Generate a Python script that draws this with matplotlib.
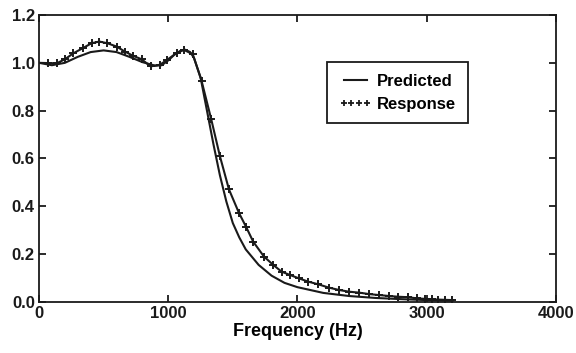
import matplotlib.pyplot as plt
from matplotlib.lines import Line2D

# predicted curve (Hz, magnitude)
pred_freq = [0, 100, 200, 300, 400, 500, 600, 700, 800, 900, 950, 1000, 1050, 1100,
             1130, 1170, 1200, 1250, 1300, 1350, 1400, 1450, 1500, 1550, 1600, 1700,
             1800, 1900, 2000, 2200, 2400, 2600, 2800, 3000, 3200]
pred_val = [1.0, 0.99, 1.0, 1.025, 1.045, 1.052, 1.045, 1.025, 1.003, 0.988, 0.99, 1.01,
            1.035, 1.052, 1.055, 1.045, 1.02, 0.94, 0.80, 0.66, 0.53, 0.42, 0.33, 0.27,
            0.22, 0.155, 0.11, 0.08, 0.062, 0.038, 0.025, 0.017, 0.012, 0.008, 0.005]

# measured response
resp_freq = [0, 70, 137, 201, 266, 338, 407, 467, 529, 601, 665, 730, 794, 864, 936, 993,
             1065, 1122, 1190, 1259, 1333, 1400, 1470, 1547, 1602, 1658, 1741, 1813, 1877,
             1942, 2011, 2084, 2161, 2244, 2324, 2401, 2479, 2556, 2631, 2710, 2780, 2857,
             2927, 2990, 3040, 3090, 3140, 3200]
resp_val = [1.0, 0.999, 0.998, 1.015, 1.04, 1.061, 1.082, 1.089, 1.082, 1.068, 1.047, 1.029,
            1.015, 0.985, 0.992, 1.013, 1.041, 1.054, 1.036, 0.923, 0.764, 0.61, 0.471, 0.373,
            0.315, 0.252, 0.19, 0.155, 0.127, 0.113, 0.099, 0.085, 0.074, 0.06, 0.05, 0.043,
            0.039, 0.033, 0.029, 0.025, 0.022, 0.02, 0.015, 0.013, 0.011, 0.01, 0.009, 0.008]

plt.rcParams['font.family'] = ['Liberation Sans Narrow', 'Liberation Sans', 'DejaVu Sans']
plt.rcParams['font.weight'] = 'bold'

fig = plt.figure(figsize=(5.76, 3.53), dpi=100)
ax = fig.add_axes([0.0677, 0.1445, 0.8973, 0.813])

ax.plot(pred_freq, pred_val, color='#1a1a1a', lw=1.5)
ax.plot(resp_freq[1:], resp_val[1:], color='#1a1a1a', lw=1.5, marker='+', ms=6, mew=1.4)
ax.plot(resp_freq[:2], resp_val[:2], color='#1a1a1a', lw=1.5)

ax.set_xlim(0, 4000)
ax.set_ylim(0, 1.2)
ax.set_xticks([0, 1000, 2000, 3000, 4000])
ax.set_yticks([0.0, 0.2, 0.4, 0.6, 0.8, 1.0, 1.2])
ax.set_yticklabels(['0.0', '0.2', '0.4', '0.6', '0.8', '1.0', '1.2'])
ax.tick_params(direction='in', length=5, width=1.3, top=True, right=True,
               labelsize=12, pad=3, colors='#1a1a1a')
for s in ax.spines.values():
    s.set_linewidth(1.3)
    s.set_color('#1a1a1a')
ax.set_xlabel('Frequency (Hz)', fontsize=13, fontweight='bold', labelpad=1)

handles = [Line2D([], [], color='#1a1a1a', lw=1.5),
           Line2D([], [], color='#1a1a1a', ls='none', marker='+', ms=5, mew=1.3)]
leg = ax.legend(handles, ['Predicted', 'Response'], loc='upper left',
                bbox_to_anchor=(0.541, 0.864), numpoints=4, handlelength=2.0,
                handletextpad=0.3, fancybox=False, framealpha=1, borderpad=0.7,
                labelspacing=0.45, prop={'size': 12, 'weight': 'bold'})
leg.get_frame().set_edgecolor('#1a1a1a')
leg.get_frame().set_linewidth(1.3)

fig.savefig('out.png', dpi=100)
